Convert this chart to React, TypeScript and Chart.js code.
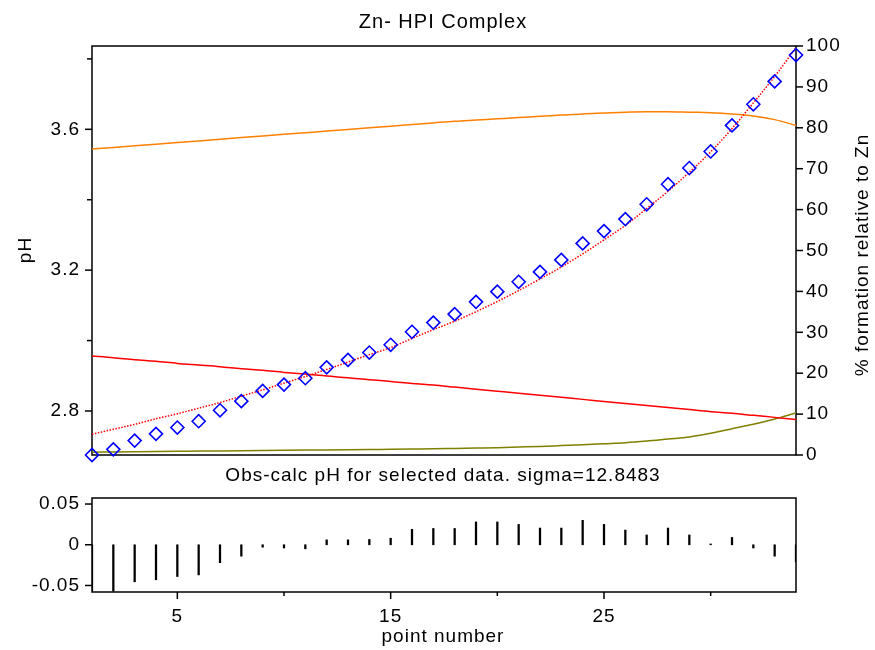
import React, { useEffect, useRef } from 'react';
import { Chart, registerables } from 'chart.js';

Chart.register(...registerables);

const FONT = '"Liberation Sans", Arial, sans-serif';

// ---- data ----
const pointNumbers = [1, 2, 3, 4, 5, 6, 7, 8, 9, 10, 11, 12, 13, 14, 15, 16, 17, 18, 19, 20, 21, 22, 23, 24, 25, 26, 27, 28, 29, 30, 31, 32, 33, 34];

const obsPH = [2.675, 2.691, 2.716, 2.735, 2.753, 2.771, 2.802, 2.828, 2.857, 2.875, 2.893, 2.924, 2.945, 2.966, 2.988, 3.025, 3.051, 3.075, 3.11, 3.139, 3.167, 3.195, 3.229, 3.276, 3.311, 3.345, 3.387, 3.444, 3.49, 3.537, 3.611, 3.671, 3.736, 3.811];

const calcPH = [2.734, 2.748, 2.762, 2.778, 2.792, 2.808, 2.824, 2.842, 2.86, 2.879, 2.898, 2.918, 2.939, 2.96, 2.98, 3.006, 3.031, 3.055, 3.082, 3.111, 3.142, 3.175, 3.209, 3.246, 3.286, 3.327, 3.375, 3.424, 3.478, 3.536, 3.602, 3.675, 3.75, 3.832];

const pctOrange = [74.8, 75.2, 75.6, 76.0, 76.4, 76.8, 77.2, 77.6, 78.0, 78.4, 78.8, 79.2, 79.6, 80.0, 80.4, 80.8, 81.2, 81.6, 81.9, 82.2, 82.5, 82.8, 83.1, 83.4, 83.6, 83.8, 83.9, 83.9, 83.8, 83.7, 83.4, 82.9, 82.0, 80.6];

const pctRed = [24.2, 23.8, 23.3, 22.9, 22.4, 22.0, 21.6, 21.1, 20.7, 20.2, 19.8, 19.3, 18.9, 18.4, 18.0, 17.5, 17.1, 16.6, 16.1, 15.6, 15.1, 14.6, 14.1, 13.6, 13.1, 12.6, 12.1, 11.6, 11.1, 10.6, 10.2, 9.7, 9.2, 8.7];

const pctOlive = [0.7, 0.75, 0.8, 0.85, 0.9, 0.95, 1.0, 1.05, 1.1, 1.15, 1.2, 1.25, 1.3, 1.35, 1.4, 1.45, 1.5, 1.6, 1.7, 1.8, 1.95, 2.1, 2.3, 2.5, 2.75, 3.0, 3.4, 3.9, 4.4, 5.3, 6.4, 7.5, 8.8, 10.3];

const residuals = [-0.059, -0.057, -0.0455, -0.043, -0.039, -0.037, -0.022, -0.014, -0.003, -0.004, -0.005, 0.006, 0.006, 0.0065, 0.008, 0.019, 0.02, 0.02, 0.028, 0.028, 0.025, 0.0205, 0.0205, 0.03, 0.025, 0.018, 0.012, 0.0205, 0.012, 0.001, 0.009, -0.004, -0.014, -0.021];

const phTickLabels = [2.8, 3.2, 3.6];
const phTickMarks = [2.8, 3.0, 3.2, 3.4, 3.6, 3.8];
const pctTicks = [0, 10, 20, 30, 40, 50, 60, 70, 80, 90, 100];
const residTicks = [-0.05, 0, 0.05];
const xTickLabels = [5, 15, 25];
const xMinorTicks = [10, 20, 30];

const TITLE = 'Zn- HPI Complex';
const LEFT_TITLE = 'pH';
const RIGHT_TITLE = '% formation relative to Zn';
const RESID_TITLE = 'Obs-calc pH for selected data. sigma=12.8483';
const X_TITLE = 'point number';

type TickSpec = { axis: string; values: number[]; len: number; side: 'left' | 'right' | 'bottom' };
type TextSpec = { text: string; x: number; y: number; size: number; rotate?: boolean };

function makeDecor(ticks: TickSpec[], texts: TextSpec[]) {
  return {
    id: 'decor',
    beforeDraw(chart: any) {
      chart.ctx.letterSpacing = '1px';
    },
    beforeDatasetsDraw(chart: any) {
      const { ctx, chartArea: a } = chart;
      ctx.save();
      ctx.strokeStyle = '#000';
      ctx.lineWidth = 1.5;
      ctx.strokeRect(a.left, a.top, a.right - a.left, a.bottom - a.top);
      for (const t of ticks) {
        const s = chart.scales[t.axis];
        for (const v of t.values) {
          const p = s.getPixelForValue(v);
          ctx.beginPath();
          if (t.side === 'left') { ctx.moveTo(a.left - t.len, p); ctx.lineTo(a.left, p); }
          else if (t.side === 'right') { ctx.moveTo(a.right, p); ctx.lineTo(a.right + t.len, p); }
          else { ctx.moveTo(p, a.bottom); ctx.lineTo(p, a.bottom + t.len); }
          ctx.stroke();
        }
      }
      ctx.restore();
    },
    afterDraw(chart: any) {
      const ctx = chart.ctx;
      for (const t of texts) {
        ctx.save();
        ctx.font = `${t.size}px ${FONT}`;
        ctx.fillStyle = '#000';
        ctx.textAlign = 'center';
        ctx.textBaseline = 'middle';
        ctx.translate(t.x, t.y);
        if (t.rotate) ctx.rotate(-Math.PI / 2);
        ctx.fillText(t.text, 0, 0);
        ctx.restore();
      }
    },
  };
}

function matchLabel(v: number, list: number[]): string {
  for (const l of list) if (Math.abs(v - l) < 1e-6) return String(l);
  return '';
}

function fixVertical(width: number) {
  return (s: any) => {
    s.width = width;
    s.paddingTop = 0;
    s.paddingBottom = 0;
  };
}

export default function App() {
  const topRef = useRef<HTMLCanvasElement>(null);
  const botRef = useRef<HTMLCanvasElement>(null);

  useEffect(() => {
    const tickFont = { family: FONT, size: 19 };
    const xy = (vals: number[]) => pointNumbers.map((p, i) => ({ x: p, y: vals[i] }));

    const top = new Chart(topRef.current!, {
      type: 'line',
      data: {
        datasets: [
          {
            data: xy(obsPH), yAxisID: 'y', showLine: false, pointStyle: 'rectRot', pointRadius: 6.5,
            pointBorderColor: '#0000ff', pointBackgroundColor: 'rgba(0,0,0,0)', pointBorderWidth: 1.6,
            borderColor: '#0000ff', clip: false,
          },
          {
            data: xy(calcPH), yAxisID: 'y', borderColor: '#ff0000', borderWidth: 1.5, borderDash: [1.5, 1.5],
            pointRadius: 0, cubicInterpolationMode: 'monotone',
          },
          { data: xy(pctOrange), yAxisID: 'y1', borderColor: '#ff8000', borderWidth: 1.5, pointRadius: 0, cubicInterpolationMode: 'monotone' },
          { data: xy(pctRed), yAxisID: 'y1', borderColor: '#ff0000', borderWidth: 1.5, pointRadius: 0, cubicInterpolationMode: 'monotone' },
          { data: xy(pctOlive), yAxisID: 'y1', borderColor: '#808000', borderWidth: 1.5, pointRadius: 0, cubicInterpolationMode: 'monotone' },
        ],
      } as any,
      options: {
        responsive: false,
        animation: false,
        layout: { padding: { left: 0, right: 0, top: 46, bottom: 15 } },
        plugins: { legend: { display: false }, tooltip: { enabled: false }, title: { display: false } },
        scales: {
          x: { type: 'linear', min: 1, max: 34, display: false },
          y: {
            type: 'linear', position: 'left', min: 2.675, max: 3.8366,
            grid: { display: false, drawTicks: false }, border: { display: false },
            ticks: {
              stepSize: 0.2, includeBounds: false, padding: 12, color: '#000', font: tickFont,
              callback: (v: any) => matchLabel(Number(v), phTickLabels),
            },
            afterFit: fixVertical(92),
          },
          y1: {
            type: 'linear', position: 'right', min: 0, max: 100,
            grid: { display: false, drawTicks: false }, border: { display: false },
            ticks: {
              stepSize: 10, padding: 10, color: '#000', font: tickFont,
              callback: (v: any) => matchLabel(Number(v), pctTicks),
            },
            afterFit: fixVertical(79),
          },
        },
      } as any,
      plugins: [
        makeDecor(
          [
            { axis: 'y', values: phTickMarks.filter((v) => phTickLabels.includes(v)), len: 7, side: 'left' },
            { axis: 'y', values: phTickMarks.filter((v) => !phTickLabels.includes(v)), len: 5, side: 'left' },
            { axis: 'y1', values: pctTicks, len: 7, side: 'right' },
          ],
          [
            { text: TITLE, x: 443, y: 22.5, size: 20 },
            { text: LEFT_TITLE, x: 26, y: 250, size: 19, rotate: true },
            { text: RIGHT_TITLE, x: 863, y: 255, size: 19, rotate: true },
          ]
        ),
      ],
    });

    const bot = new Chart(botRef.current!, {
      type: 'bar',
      data: {
        datasets: [
          { data: xy(residuals), backgroundColor: '#000', borderWidth: 0, barThickness: 1.6 },
        ],
      } as any,
      options: {
        responsive: false,
        animation: false,
        layout: { padding: { left: 0, right: 79, top: 38, bottom: 0 } },
        plugins: { legend: { display: false }, tooltip: { enabled: false }, title: { display: false } },
        scales: {
          x: {
            type: 'linear', min: 1, max: 34, offset: false,
            grid: { display: false, drawTicks: false }, border: { display: false },
            ticks: {
              stepSize: 5, includeBounds: false, padding: 13, color: '#000', font: tickFont, maxRotation: 0,
              callback: (v: any) => matchLabel(Number(v), xTickLabels),
            },
            afterFit: (s: any) => { s.height = 58; s.paddingLeft = 0; s.paddingRight = 0; },
          },
          y: {
            type: 'linear', min: -0.058, max: 0.0574,
            grid: { display: false, drawTicks: false }, border: { display: false },
            ticks: {
              stepSize: 0.05, includeBounds: false, padding: 12, color: '#000', font: tickFont,
              callback: (v: any) => matchLabel(Number(v), residTicks),
            },
            afterFit: fixVertical(92),
          },
        },
      } as any,
      plugins: [
        makeDecor(
          [
            { axis: 'y', values: residTicks, len: 7, side: 'left' },
            { axis: 'x', values: xTickLabels, len: 7, side: 'bottom' },
            { axis: 'x', values: xMinorTicks, len: 4, side: 'bottom' },
          ],
          [
            { text: RESID_TITLE, x: 443, y: 16, size: 19 },
            { text: X_TITLE, x: 443, y: 177, size: 19 },
          ]
        ),
      ],
    });

    return () => {
      top.destroy();
      bot.destroy();
    };
  }, []);

  return (
    <div style={{ position: 'fixed', left: 0, top: 0, width: 875, height: 650, background: '#fff' }}>
      <canvas ref={topRef} width={875} height={470} style={{ position: 'absolute', left: 0, top: 0 }} />
      <canvas ref={botRef} width={875} height={190} style={{ position: 'absolute', left: 0, top: 460 }} />
    </div>
  );
}
